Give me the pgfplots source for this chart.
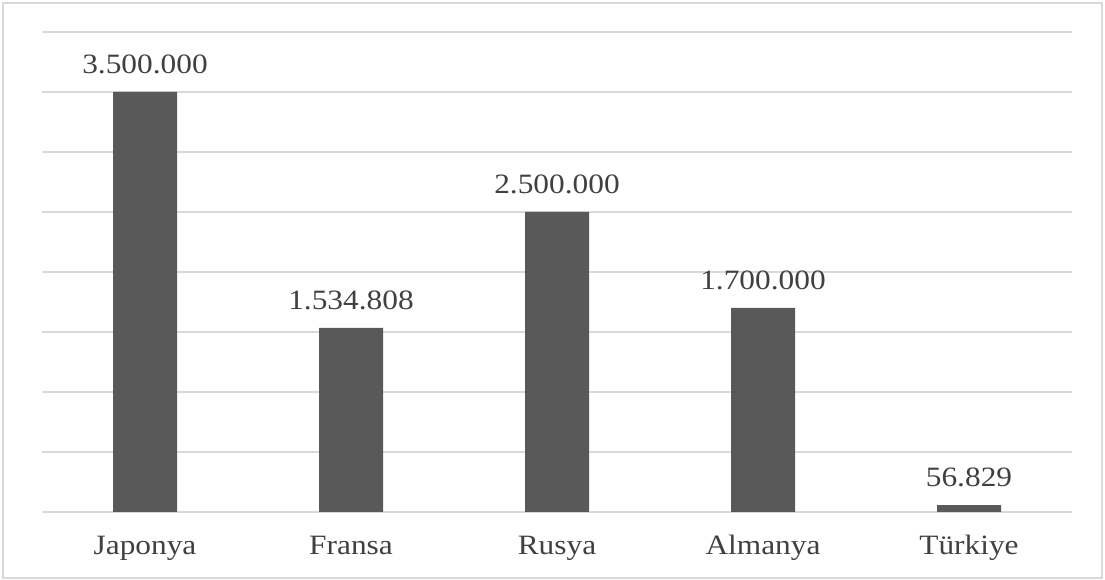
\documentclass[border=0pt]{standalone}
\usepackage{pgfplots}
\pgfplotsset{compat=1.18}
\usepackage{fontspec}
\setmainfont{Liberation Serif}[FakeStretch=1.12]
\definecolor{barfill}{HTML}{595959}
\definecolor{gridgray}{HTML}{D9D9D9}
\definecolor{labeltext}{HTML}{404040}

\begin{document}
\begin{tikzpicture}
  \begin{axis}[
      scale only axis, width=515bp, height=240bp,
      xmin=-0.5, xmax=4.5, ymin=0, ymax=4000000,
      xtick=data, xticklabels={Japonya,Fransa,Rusya,Almanya,Türkiye},
      ytick={0,500000,1000000,1500000,2000000,2500000,3000000,3500000,4000000},
      yticklabels={}, scaled y ticks=false, ymajorgrids,
      grid style={draw=gridgray, line width=0.75bp},
      axis x line*=bottom, axis y line*=left,
      x axis line style={draw=gridgray, line width=1bp, -},
      y axis line style={draw=none},
      major tick length=0pt,
      xticklabel style={font=\fontsize{14bp}{16bp}\selectfont, text=labeltext,
        anchor=base, yshift=-21.5bp},
      clip=false,
      point meta=explicit symbolic,
      nodes near coords,
      every node near coord/.append style={font=\fontsize{14bp}{16bp}\selectfont,
        text=labeltext, inner sep=0pt, yshift=9bp},
    ]
    \addplot[ybar, bar width=32bp, fill=barfill, draw=none] coordinates {
      (0,3500000) [3.500.000]
      (1,1534808) [1.534.808]
      (2,2500000) [2.500.000]
      (3,1700000) [1.700.000]
      (4,56829)   [56.829]
    };
    % chart frame
    \draw[gridgray, line width=1bp] (rel axis cs:-0.0379,-0.1375) rectangle (rel axis cs:1.0291,1.0604);
    \path (rel axis cs:-0.04078,-0.14167) rectangle (rel axis cs:1.03204,1.06667);
  \end{axis}
\end{tikzpicture}
\end{document}
